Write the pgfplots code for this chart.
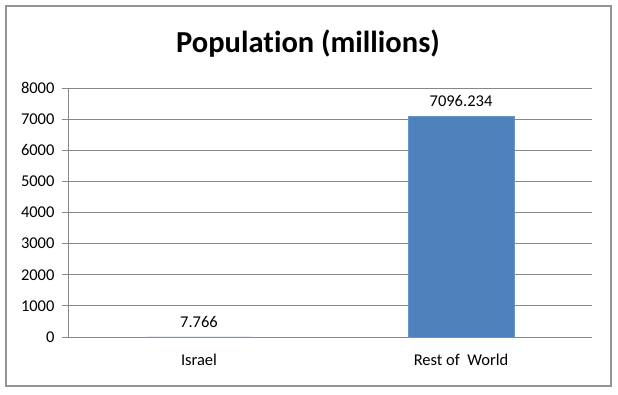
\documentclass[border=0pt]{standalone}
\usepackage{fontspec}
\setmainfont{Carlito}[Ligatures={NoCommon}]
\usepackage{pgfplots}
\pgfplotsset{compat=1.18}
\definecolor{barblue}{HTML}{4F81BD}
\definecolor{gridgray}{HTML}{878787}
\begin{document}
\begin{tikzpicture}[x=1pt,y=1pt]
\path[use as bounding box] (0,0) rectangle (618,394);
\draw[gridgray!90, line width=1.6pt] (6,8) rectangle (611,388);
\node[font=\fontsize{30.5}{36}\selectfont\bfseries] at (308,350) {Population (millions)};
\begin{axis}[
  at={(68pt,57pt)}, anchor=south west,
  scale only axis, width=524pt, height=249pt,
  xmin=-0.5, xmax=1.5, ymin=0, ymax=8000,
  axis x line=bottom, axis y line=left,
  axis line style={gridgray, line width=0.8pt, -},
  ytick={0,1000,...,8000},
  ymajorgrids, grid style={gridgray, line width=0.8pt},
  yticklabel style={font=\fontsize{16.5}{19}\selectfont, xshift=-4pt},
  scaled y ticks=false,
  /pgf/number format/assume math mode=true,
  yticklabel={\pgfmathprintnumber[fixed,precision=0,1000 sep={}]{\tick}},
  tick align=outside, major tick length=6pt,
  tick style={gridgray, line width=0.8pt},
  xtick={0,1}, xticklabels={Israel, Rest of~ World},
  xtick style={draw=none},
  xticklabel style={font=\fontsize{16.5}{19}\selectfont, yshift=-8pt},
  extra x ticks={-0.5,0.5,1.5}, extra x tick labels={},
  extra x tick style={tick style={draw=gridgray, line width=0.8pt}, major tick length=6pt},
  ybar, bar width=106pt,
  nodes near coords, point meta=explicit symbolic,
  every node near coord/.append style={font=\fontsize{16.5}{19}\selectfont, black, yshift=6pt},
  clip=false,
]
\addplot[fill=barblue, draw=barblue!85!white] coordinates {(0,7.766) [7.766] (1,7096.234) [7096.234]};
\end{axis}
\end{tikzpicture}
\end{document}
